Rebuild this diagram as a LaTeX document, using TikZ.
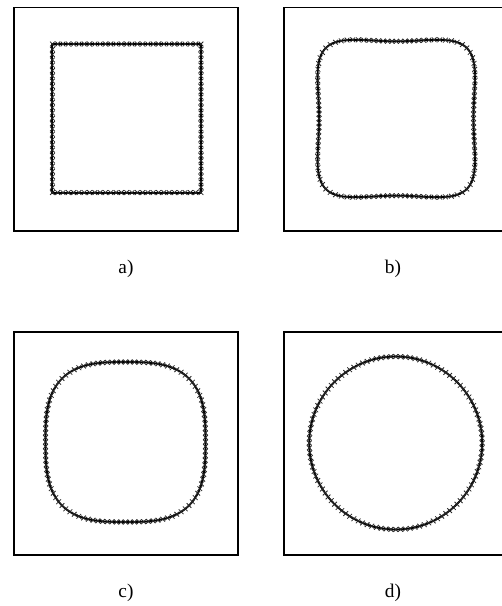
\documentclass[tikz,border=0pt]{standalone}
\usepackage{fontspec}
\setmainfont{Liberation Serif}
\tikzset{
  frame/.style={draw=black, line width=1.1pt},
  curve/.style={draw=black, line width=1.4pt, line join=round},
  xmarks/.style={only marks, mark=x, mark size=2.5pt, mark options={line width=0.6pt, draw=black!85}},
  lbl/.style={font=\fontsize{14.5}{16}\selectfont, inner sep=0pt},
  declare function={
    sq(\t,\n)=1/pow(pow(abs(cos(\t)),\n)+pow(abs(sin(\t)),\n),1/\n);
    rb(\t)=80*sq(\t,5.5)*(1-0.035*pow(cos(2*\t),2));
    rc(\t)=80*sq(\t,3);
  }
}
\begin{document}
\begin{tikzpicture}[x=0.75pt,y=-0.75pt]
\useasboundingbox (0,0) rectangle (502,606);
\clip (0,0) rectangle (502,606);
% frames
\draw[frame] (14,7.5) rectangle (238,231);
\draw[frame] (284,7.5) rectangle (508,231);
\draw[frame] (14,332) rectangle (238,555);
\draw[frame] (284,332) rectangle (508,555);
% a) square
\draw[curve] (52.4,44) rectangle (201,192.6);
\path plot[xmarks, domain=0:27, samples=28] ({52.4+\x*148.6/28},44);
\path plot[xmarks, domain=0:27, samples=28] (201,{44+\x*148.6/28});
\path plot[xmarks, domain=0:27, samples=28] ({201-\x*148.6/28},192.6);
\path plot[xmarks, domain=0:27, samples=28] (52.4,{192.6-\x*148.6/28});
% b)
\draw[curve] plot[domain=0:360, samples=361] ({396.3+rb(\x)*cos(\x)},{118.5+rb(\x)*sin(\x)}) -- cycle;
\path plot[xmarks, domain=0:356.7857, samples=112] ({396.3+rb(\x)*cos(\x)},{118.5+rb(\x)*sin(\x)});
% c)
\draw[curve] plot[domain=0:360, samples=361] ({125.5+rc(\x)*cos(\x)},{442+rc(\x)*sin(\x)}) -- cycle;
\path plot[xmarks, domain=0:356.7857, samples=112] ({125.5+rc(\x)*cos(\x)},{442+rc(\x)*sin(\x)});
% d)
\draw[curve] (395.7,443) circle[radius=86.5];
\path plot[xmarks, domain=0:356.7857, samples=112] ({395.7+86.5*cos(\x)},{443+86.5*sin(\x)});
% labels
\node[lbl] (la) at (126,269) {a)};
\node[lbl] (lb) at (393,269) {b)};
\node[lbl] (lc) at (126,593) {c)};
\node[lbl] (ld) at (393,593) {d)};
\end{tikzpicture}
\end{document}
